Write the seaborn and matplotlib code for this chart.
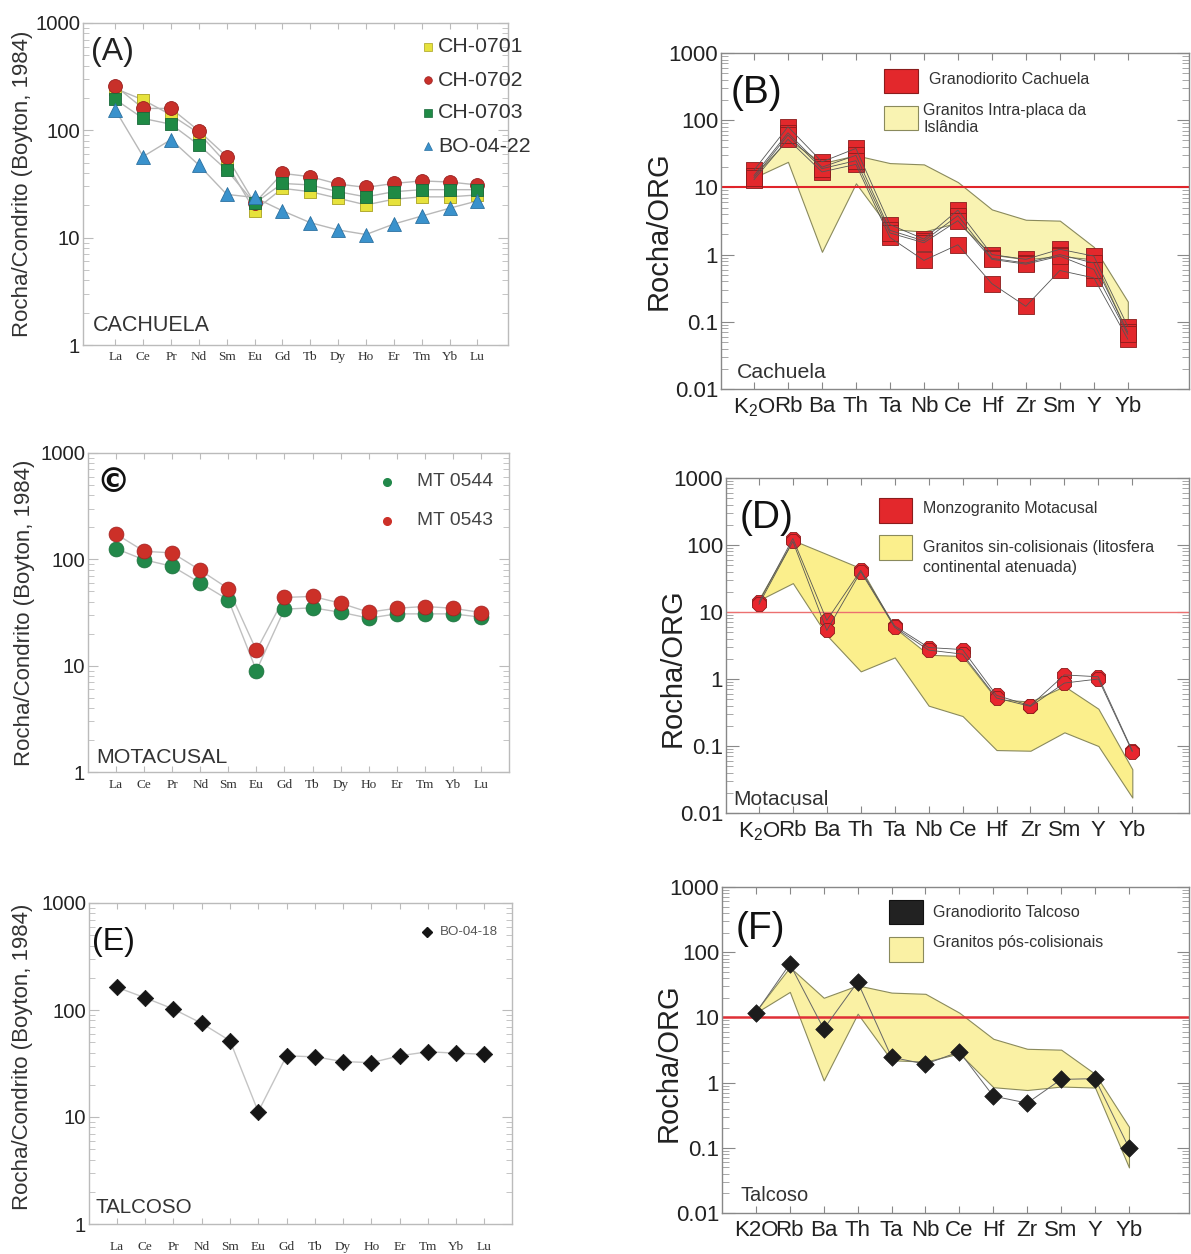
import numpy as np
import pandas as pd
import matplotlib
matplotlib.use("Agg")
import matplotlib.pyplot as plt
import seaborn as sns
from matplotlib.ticker import FixedLocator, LogLocator, NullFormatter, FuncFormatter
from matplotlib.patches import Rectangle

# ---------------- data ----------------
ree = ["La", "Ce", "Pr", "Nd", "Sm", "Eu", "Gd", "Tb", "Dy", "Ho", "Er", "Tm", "Yb", "Lu"]

# (A) Cachuela, chondrite normalised
ch0701 = [245, 192, 139, 94, 49, 17.9, 28.8, 26.8, 23.3, 20.2, 22.8, 24, 24, 25]
ch0702 = [259, 160, 160, 99, 57, 21, 39.7, 37, 31.6, 29.4, 32, 33.8, 33, 31]
ch0703 = [194, 129, 114, 73, 42.7, 20.9, 32, 31, 26.8, 24, 26.8, 28, 28, 28]
bo0422 = [155, 57, 82, 47.5, 25.3, 23.7, 17.8, 13.8, 11.8, 10.7, 13.4, 15.9, 18.8, 22]

# (C) Motacusal
mt0544 = [126, 99, 86, 60, 41.6, 9.0, 34, 35, 31.8, 28, 30.7, 30.7, 30.7, 28.6]
mt0543 = [173, 119, 115, 79, 53, 13.9, 43.8, 44.8, 38.7, 31.8, 34.7, 36, 34.7, 31.6]

# (E) Talcoso
bo0418 = [163, 130, 102, 75, 51.6, 11.2, 37.3, 36.5, 33, 32.2, 37.3, 40.7, 39.5, 38.6]

# ORG normalised spider diagrams
org_bd = [r"$\mathregular{K_2O}$", "Rb", "Ba", "Th", "Ta", "Nb", "Ce", "Hf", "Zr", "Sm", "Y", "Yb"]
org_f = ["K2O", "Rb", "Ba", "Th", "Ta", "Nb", "Ce", "Hf", "Zr", "Sm", "Y", "Yb"]

# (B) Granodiorito Cachuela
cach_1 = [18, 80, 24, 38, 2.8, 1.7, 4.6, 1.0, 0.85, 1.2, 0.95, 0.085]
cach_2 = [15, 65, 20, 30, 2.3, 1.6, 3.8, 0.88, 0.75, 1.0, 0.75, 0.07]
cach_3 = [13, 52, 17, 22, 1.8, 0.82, 1.4, 0.37, 0.17, 0.58, 0.45, 0.055]
cach_4 = [14, 60, 19, 25, 2.1, 1.5, 3.2, 0.85, 0.72, 0.95, 0.6, 0.065]
iceland_upper = [15, 52, 23, 30, 23, 22, 12, 4.7, 3.3, 3.2, 1.3, 0.2]
iceland_lower = [14, 24, 1.1, 11.5, 2.4, 2.2, 3.0, 1.0, 0.85, 0.95, 0.85, 0.065]

# (D) Monzogranito Motacusal
mota_1 = [14, 125, 7.5, 42, 6.2, 2.95, 2.75, 0.57, 0.40, 1.15, 1.08, 0.085]
mota_2 = [13, 113, 5.3, 40, 5.9, 2.7, 2.35, 0.52, 0.39, 0.87, 1.0, 0.082]
syncol_upper = [15.5, 118, 73, 45, 5.8, 2.3, 2.2, 0.5, 0.46, 0.78, 0.36, 0.045]
syncol_lower = [15, 27, 4.5, 1.3, 2.1, 0.4, 0.28, 0.087, 0.085, 0.16, 0.1, 0.017]

# (F) Granodiorito Talcoso
talc = [11.8, 66, 6.65, 35, 2.45, 1.92, 2.98, 0.62, 0.485, 1.12, 1.15, 0.1]
postcol_upper = [12.5, 59, 20, 31, 24, 23, 11.8, 4.7, 3.3, 3.2, 1.36, 0.21]
postcol_lower = [11.8, 24.6, 1.08, 11.4, 2.2, 2.1, 2.8, 0.85, 0.77, 0.87, 0.84, 0.05]

# ---------------- style ----------------
sns.set_theme(style="ticks")
plt.rcParams['font.family'] = ['Liberation Sans', 'DejaVu Sans']
plt.rcParams['mathtext.default'] = 'regular'

fig = plt.figure(figsize=(11.91, 12.54), dpi=100)
W, H = 1191.0, 1254.0
REE_YLAB = 16.0


def add_ax(left, top, right, bottom):
    return fig.add_axes([left / W, 1 - bottom / H, (right - left) / W, (bottom - top) / H])


def frame(ax, color, lw=1.0):
    for s in ax.spines.values():
        s.set_visible(True)
        s.set_color(color)
        s.set_linewidth(lw)


def ree_panel(ax, xlim, pad):
    ax.set_yscale("log")
    ax.set_ylim(1, 1000)
    ax.set_xlim(*xlim)
    ax.set_xticks(range(len(ree)))
    ax.set_xticklabels(ree, fontfamily=['Liberation Serif', 'DejaVu Serif'], fontsize=9.5, color='#333333')
    ax.tick_params(axis='x', which='both', direction='in', top=True, bottom=True,
                   length=4, width=0.8, color='#bbbbbb', pad=pad)
    ax.yaxis.set_major_locator(FixedLocator([1, 10, 100, 1000]))
    ax.yaxis.set_major_formatter(FuncFormatter(lambda v, p: f"{v:g}"))
    ax.yaxis.set_minor_locator(LogLocator(base=10, subs=np.arange(2, 10)))
    ax.yaxis.set_minor_formatter(NullFormatter())
    ax.tick_params(axis='y', which='major', direction='in', left=True, right=True,
                   length=7, width=0.8, color='#bbbbbb', labelsize=14.6, labelcolor='#222222', pad=2)
    ax.tick_params(axis='y', which='minor', direction='in', left=True, right=True,
                   length=4, width=0.6, color='#bbbbbb')
    frame(ax, '#bbbbbb')


def org_panel(ax, xlim, labels, refcolor, reflw):
    ax.set_yscale("log")
    ax.set_ylim(0.01, 1000)
    ax.set_xlim(*xlim)
    ax.set_xticks(range(len(labels)))
    ax.set_xticklabels(labels, fontsize=16, color='#222222')
    ax.tick_params(axis='x', which='both', direction='in', top=True, bottom=True,
                   length=5, width=0.8, color='#888888', pad=5)
    ax.yaxis.set_major_locator(FixedLocator([0.01, 0.1, 1, 10, 100, 1000]))
    ax.yaxis.set_major_formatter(FuncFormatter(lambda v, p: f"{v:g}"))
    ax.yaxis.set_minor_locator(LogLocator(base=10, subs=np.arange(2, 10)))
    ax.yaxis.set_minor_formatter(NullFormatter())
    ax.tick_params(axis='y', which='major', direction='in', left=True, right=True,
                   length=9, width=0.8, color='#888888', labelsize=16, labelcolor='#222222', pad=2)
    ax.tick_params(axis='y', which='minor', direction='in', left=True, right=True,
                   length=5, width=0.6, color='#999999')
    frame(ax, '#888888')
    ax.axhline(10, color=refcolor, lw=reflw, zorder=2)


def long_df(series_dict):
    rows = []
    for name, vals in series_dict.items():
        for i, v in enumerate(vals):
            rows.append({"pos": i, "value": v, "sample": name})
    return pd.DataFrame(rows)


# ======================= (A) =======================
axA = add_ax(83, 23, 508, 345)
ree_panel(axA, (-1.16, 14.1), 4.5)
dfA = long_df({"CH-0701": ch0701, "CH-0702": ch0702, "CH-0703": ch0703, "BO-04-22": bo0422})
sns.lineplot(data=dfA, x="pos", y="value", units="sample", estimator=None, sort=False,
             color='#b8b8b8', lw=1.0, ax=axA, legend=False, zorder=2)
styleA = [("CH-0701", 's', '#e6e23c', '#a8a020', 85),
          ("CH-0702", 'o', '#c8302a', '#9a2020', 100),
          ("CH-0703", 's', '#1f8a45', '#17683a', 85),
          ("BO-04-22", '^', '#3a92cc', '#2a70a0', 100)]
for name, m, fc, ec, s in styleA:
    d = dfA[dfA["sample"] == name]
    sns.scatterplot(data=d, x="pos", y="value", marker=m, s=s, color=fc, edgecolor=ec,
                    linewidth=0.6, ax=axA, legend=False, zorder=3)
axA.set_xlabel("")
axA.set_ylabel("Rocha/Condrito (Boyton, 1984)", fontsize=REE_YLAB, color='#333333')
axA.yaxis.set_label_coords(-0.118, 0.5)
for i, (name, m, fc, ec, s) in enumerate(styleA):
    yy = (345 - (47 + 33 * i)) / 322
    axA.plot([0.812], [yy], marker=m, ms=5.5, mfc=fc, mec=ec, mew=0.5, transform=axA.transAxes, ls='none')
    axA.text(0.835, yy, name, transform=axA.transAxes, fontsize=15.3, color='#333333', va='center')
axA.text(0.02, 0.91, "(A)", transform=axA.transAxes, fontsize=23, color='#222222', va='center')
axA.text(0.024, 0.062, "CACHUELA", transform=axA.transAxes, fontsize=15.5, color='#333333', va='center')

# ======================= (C) =======================
axC = add_ax(88, 453, 509, 772)
ree_panel(axC, (-1.0, 14.0), 5)
dfC = long_df({"MT 0544": mt0544, "MT 0543": mt0543})
sns.lineplot(data=dfC, x="pos", y="value", units="sample", estimator=None, sort=False,
             color='#c0c0c0', lw=1.0, ax=axC, legend=False, zorder=2)
styleC = [("MT 0544", '#22884a', '#1a6e3a'), ("MT 0543", '#cc3028', '#a02020')]
for name, fc, ec in styleC:
    d = dfC[dfC["sample"] == name]
    sns.scatterplot(data=d, x="pos", y="value", marker='o', s=115, color=fc, edgecolor=ec,
                    linewidth=0.5, ax=axC, legend=False, zorder=3)
axC.set_xlabel("")
axC.set_ylabel("Rocha/Condrito (Boyton, 1984)", fontsize=REE_YLAB, color='#333333')
axC.yaxis.set_label_coords(-0.126, 0.5)
for i, (name, fc, ec) in enumerate(styleC):
    yy = (772 - (482 + 39 * i)) / 319
    axC.plot([0.71], [yy], marker='o', ms=5.5, mfc=fc, mec=fc, transform=axC.transAxes, ls='none')
    axC.text(0.781, yy, name, transform=axC.transAxes, fontsize=13.9, color='#444444', va='center')
axC.text(0.02, 0.906, "©", transform=axC.transAxes, fontsize=24, fontweight='bold',
         color='#111111', va='center', family=['DejaVu Sans'])
axC.text(0.02, 0.044, "MOTACUSAL", transform=axC.transAxes, fontsize=15.4, color='#333333', va='center')

# ======================= (E) =======================
axE = add_ax(89, 903, 512, 1224)
ree_panel(axE, (-0.99, 13.98), 12)
dfE = long_df({"BO-04-18": bo0418})
sns.lineplot(data=dfE, x="pos", y="value", estimator=None, sort=False,
             color='#c4c4c4', lw=1.0, ax=axE, legend=False, zorder=2)
sns.scatterplot(data=dfE, x="pos", y="value", marker='D', s=70, color='#151515', edgecolor='#151515',
                linewidth=0.5, ax=axE, legend=False, zorder=3)
axE.set_xlabel("")
axE.set_ylabel("Rocha/Condrito (Boyton, 1984)", fontsize=REE_YLAB, color='#333333')
axE.yaxis.set_label_coords(-0.132, 0.52)
axE.plot([0.80], [0.91], marker='D', ms=5, mfc='#151515', mec='#151515', transform=axE.transAxes, ls='none')
axE.text(0.83, 0.91, "BO-04-18", transform=axE.transAxes, fontsize=9.6, color='#555555', va='center')
axE.text(0.007, 0.88, "(E)", transform=axE.transAxes, fontsize=23, color='#111111', va='center')
axE.text(0.015, 0.05, "TALCOSO", transform=axE.transAxes, fontsize=14.8, color='#333333', va='center')


def legend_box(ax, x0, x1, y0, y1, fc, ec):
    ax.add_patch(Rectangle((x0, y0), x1 - x0, y1 - y0, transform=ax.transAxes,
                           facecolor=fc, edgecolor=ec, lw=0.8, clip_on=False, zorder=5))


# ======================= (B) =======================
axB = add_ax(721, 53, 1189, 389)
org_panel(axB, (-0.97, 12.8), org_bd, '#e0242a', 1.5)
pos12 = np.arange(len(org_bd))
axB.fill_between(pos12, iceland_lower, iceland_upper, facecolor='#f9f3b2', edgecolor='#8a8a5c',
                 lw=0.8, zorder=1)
dfB = long_df({"s1": cach_1, "s2": cach_2, "s3": cach_3, "s4": cach_4})
sns.scatterplot(data=dfB, x="pos", y="value", marker='s', s=130, color='#e3282c', edgecolor='#8a1c1c',
                linewidth=0.6, ax=axB, legend=False, zorder=3)
sns.lineplot(data=dfB, x="pos", y="value", units="sample", estimator=None, sort=False,
             color='#555555', lw=0.6, ax=axB, legend=False, zorder=4)
axB.set_xlabel("")
axB.set_ylabel("Rocha/ORG", fontsize=21, color='#222222')
axB.yaxis.set_label_coords(-0.1026, 0.47)
legend_box(axB, 0.348, 0.421, 0.881, 0.952, '#e3282c', '#8a1c1c')
legend_box(axB, 0.348, 0.421, 0.771, 0.842, '#f9f3b2', '#8a8a5c')
axB.text(0.444, 0.92, "Granodiorito Cachuela", transform=axB.transAxes, fontsize=11.5, color='#333333', va='center')
axB.text(0.432, 0.830, "Granitos Intra-placa da", transform=axB.transAxes, fontsize=11.5, color='#333333', va='center')
axB.text(0.432, 0.777, "Islândia", transform=axB.transAxes, fontsize=11.5, color='#333333', va='center')
axB.text(0.02, 0.88, "(B)", transform=axB.transAxes, fontsize=28, color='#111111', va='center')
axB.text(0.034, 0.05, "Cachuela", transform=axB.transAxes, fontsize=15.3, color='#333333', va='center')

# ======================= (D) =======================
axD = add_ax(726, 478, 1189, 813)
org_panel(axD, (-0.97, 12.67), org_bd, '#ec7070', 1.0)
axD.fill_between(pos12, syncol_lower, syncol_upper, facecolor='#fbef8c', edgecolor='#8a8a5c',
                 lw=0.8, zorder=1)
dfD = long_df({"s1": mota_1, "s2": mota_2})
sns.scatterplot(data=dfD, x="pos", y="value", marker='8', s=120, color='#e8262e', edgecolor='#8a1c1c',
                linewidth=0.6, ax=axD, legend=False, zorder=3)
sns.lineplot(data=dfD, x="pos", y="value", units="sample", estimator=None, sort=False,
             color='#555555', lw=0.6, ax=axD, legend=False, zorder=4)
axD.set_xlabel("")
axD.set_ylabel("Rocha/ORG", fontsize=21, color='#222222')
axD.yaxis.set_label_coords(-0.084, 0.433)
legend_box(axD, 0.330, 0.402, 0.866, 0.940, '#e3282c', '#8a1c1c')
legend_box(axD, 0.330, 0.402, 0.755, 0.830, '#fbef8c', '#8a8a5c')
axD.text(0.4255, 0.910, "Monzogranito Motacusal", transform=axD.transAxes, fontsize=11.5, color='#333333', va='center')
axD.text(0.4255, 0.794, "Granitos sin-colisionais (litosfera", transform=axD.transAxes, fontsize=11.5, color='#333333', va='center')
axD.text(0.4255, 0.734, "continental atenuada)", transform=axD.transAxes, fontsize=11.5, color='#333333', va='center')
axD.text(0.03, 0.88, "(D)", transform=axD.transAxes, fontsize=28, color='#111111', va='center')
axD.text(0.016, 0.039, "Motacusal", transform=axD.transAxes, fontsize=15, color='#333333', va='center')

# ======================= (F) =======================
axF = add_ax(722, 887, 1189, 1213)
org_panel(axF, (-1.0, 12.77), org_f, '#e03036', 1.8)
axF.fill_between(pos12, postcol_lower, postcol_upper, facecolor='#faf1a4', edgecolor='#8a8a5c',
                 lw=0.8, zorder=1)
dfF = long_df({"BO-04-18": talc})
sns.lineplot(data=dfF, x="pos", y="value", estimator=None, sort=False,
             color='#666666', lw=0.7, ax=axF, legend=False, zorder=3)
sns.scatterplot(data=dfF, x="pos", y="value", marker='D', s=80, color='#1c1c1c', edgecolor='#1c1c1c',
                linewidth=0.5, ax=axF, legend=False, zorder=4)
axF.set_xlabel("")
axF.set_ylabel("Rocha/ORG", fontsize=21, color='#222222')
axF.yaxis.set_label_coords(-0.0835, 0.46)
legend_box(axF, 0.358, 0.430, 0.887, 0.960, '#222222', '#111111')
legend_box(axF, 0.358, 0.430, 0.770, 0.847, '#faf1a4', '#8a8a5c')
axF.text(0.452, 0.923, "Granodiorito Talcoso", transform=axF.transAxes, fontsize=11.5, color='#333333', va='center')
axF.text(0.452, 0.831, "Granitos pós-colisionais", transform=axF.transAxes, fontsize=11.5, color='#333333', va='center')
axF.text(0.03, 0.87, "(F)", transform=axF.transAxes, fontsize=28, color='#111111', va='center')
axF.text(0.04, 0.055, "Talcoso", transform=axF.transAxes, fontsize=14.4, color='#333333', va='center')

fig.savefig("out.png", dpi=100, facecolor='white')
